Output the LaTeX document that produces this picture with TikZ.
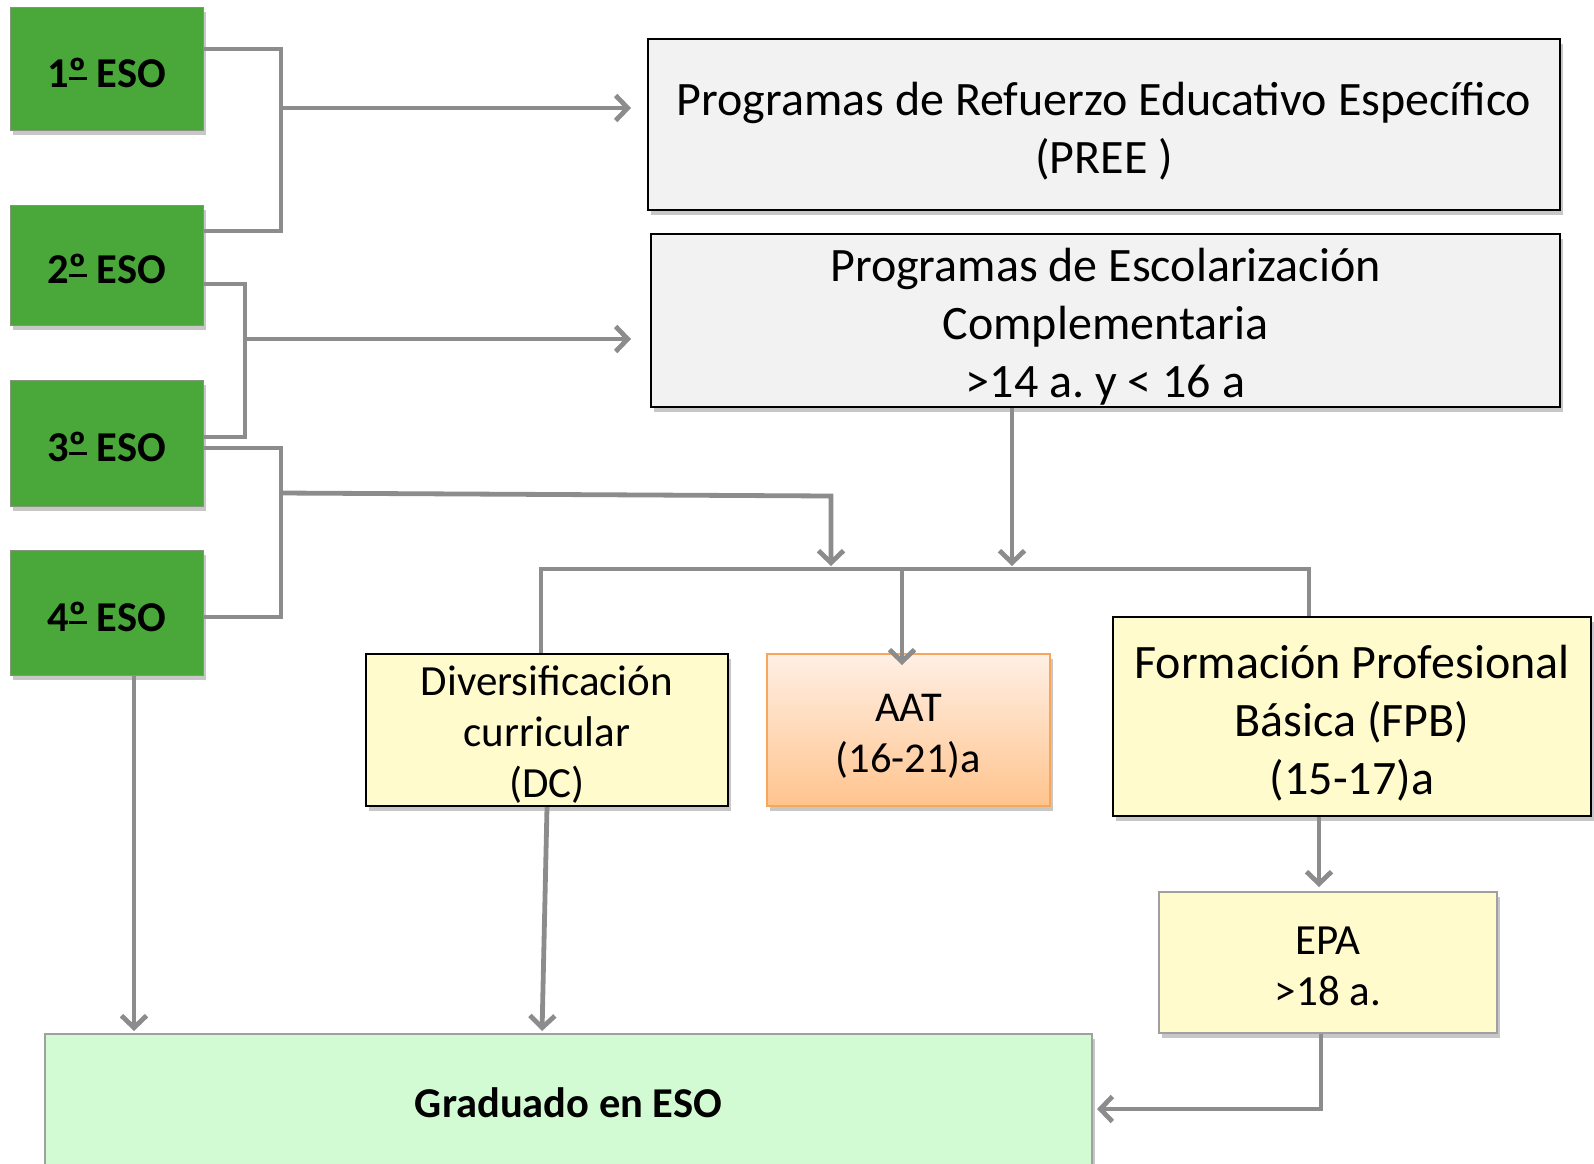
\documentclass[tikz,border=0pt]{standalone}
\usepackage{fontspec}
\setmainfont{Carlito}
\usetikzlibrary{arrows.meta,shadows,calc}
\frenchspacing
\newcommand\myord{\begingroup\setbox0\hbox{º}\rlap{\rule[0.16em]{\wd0}{0.065em}}\box0\endgroup}
\definecolor{esogreen}{RGB}{74,167,58}
\definecolor{esoedge}{RGB}{130,150,120}
\definecolor{conngray}{RGB}{140,140,140}
\definecolor{boxgray}{RGB}{242,242,242}
\definecolor{paleyellow}{RGB}{255,251,204}
\definecolor{palegreen}{RGB}{211,251,211}
\definecolor{edgegray}{RGB}{160,160,160}
\definecolor{aattop}{RGB}{255,239,228}
\definecolor{aatbot}{RGB}{255,196,142}
\definecolor{aatedge}{RGB}{246,167,92}
\tikzset{
  shad/.style={drop shadow={shadow xshift=3pt,shadow yshift=-5pt,opacity=0.22,fill=black}},
  lblbig/.style={align=center,inner sep=0pt,font=\fontsize{48}{58}\selectfont},
  lblmid/.style={align=center,inner sep=0pt,font=\fontsize{43}{51}\selectfont},
  lblbold/.style={align=center,inner sep=0pt,font=\fontsize{42.5}{50}\selectfont\bfseries},
  esobox/.style={shad,fill=esogreen,draw=esoedge,line width=1pt,minimum width=193pt,inner sep=0pt},
  greybox/.style={shad,fill=boxgray,draw=black,line width=2pt,inner sep=0pt},
  yelbox/.style={shad,fill=paleyellow,draw=black,line width=2pt,inner sep=0pt},
  conn/.style={draw=conngray,line width=4.8pt},
  arr/.style={conn,-{Straight Barb[length=12pt,width=25pt]}},
}
\begin{document}
\begin{tikzpicture}[x=1pt,y=-1pt]
\useasboundingbox (0,0) rectangle (1594,1163);
% ESO boxes
\node[esobox,minimum height=123pt,label={[lblbold,yshift=-4pt]center:{1\myord{} ESO}}] (e1) at (106.5,68.5) {};
\node[esobox,minimum height=120pt,label={[lblbold,yshift=-4pt]center:{2\myord{} ESO}}] (e2) at (106.5,265) {};
\node[esobox,minimum height=126pt,label={[lblbold,yshift=-4pt]center:{3\myord{} ESO}}] (e3) at (106.5,443) {};
\node[esobox,minimum height=125pt,label={[lblbold,yshift=-4pt]center:{4\myord{} ESO}}] (e4) at (106.5,612.5) {};
% programme boxes
\node[greybox,minimum width=912pt,minimum height=171pt,
  label={[lblbig,yshift=-6.5pt]center:{Programas de Refuerzo Educativo Específico\\(PREE )}}]
  (pree) at (1104,124.5) {};
\node[greybox,minimum width=909pt,minimum height=173pt,
  label={[lblbig,yshift=-6pt]center:{Programas de Escolarización\\Complementaria\\>14 a. y < 16 a}}]
  (pec) at (1105.5,320.5) {};
\node[yelbox,minimum width=362pt,minimum height=152pt,
  label={[lblmid,yshift=-5pt]center:{Diversificación\\curricular\\(DC)}}]
  (dc) at (547,730) {};
\node[shad,top color=aattop,bottom color=aatbot,draw=aatedge,line width=2pt,inner sep=0pt,
  minimum width=283pt,minimum height=152pt,
  label={[lblmid,font=\fontsize{42.5}{51}\selectfont,yshift=-6pt]center:{AAT\\(16-21)a}}]
  (aat) at (908.5,730) {};
\node[yelbox,minimum width=478pt,minimum height=199pt,
  label={[lblbig,yshift=-7pt]center:{Formación Profesional\\Básica (FPB)\\(15-17)a}}]
  (fpb) at (1352,716.5) {};
\node[yelbox,draw=edgegray,minimum width=338pt,minimum height=141pt,
  label={[lblmid,yshift=-4pt]center:{EPA\\>18 a.}}]
  (epa) at (1328,962.5) {};
\node[shad,fill=palegreen,draw=edgegray,line width=2pt,inner sep=0pt,
  minimum width=1047pt,minimum height=138pt,
  label={[lblbold]center:{Graduado en ESO}}]
  (grad) at (568.5,1103) {};
% junction coordinates
\coordinate (b1) at (281,108);
\coordinate (b2) at (245,339);
\coordinate (b3) at (281,493);
\coordinate (c3) at (831,496);
\coordinate (busL) at (541,569);
\coordinate (busR) at (1309,569);
\coordinate (m1) at (902,569);
\coordinate (m2) at (1012,569);
\coordinate (d4) at ([xshift=27.5pt]e4.south);
% brackets
\draw[conn] ([yshift=19.5pt]e1.east) -| (b1) |- ([yshift=34pt]e2.east);
\draw[arr,shorten >=16pt] (b1) -- (b1 -| pree.west);
\draw[conn] ([yshift=-19pt]e2.east) -| (b2) |- ([yshift=6pt]e3.east);
\draw[arr,shorten >=19pt] (b2) -- (b2 -| pec.west);
\draw[conn] ([yshift=-5pt]e3.east) -| (b3) |- ([yshift=-4.5pt]e4.east);
\draw[arr,shorten >=3pt] (b3) -- (c3) -- (c3 |- busL);
\draw[arr,shorten >=3pt] (m2 |- pec.south) -- (m2);
% bus
\draw[conn] (busL |- dc.north) -- (busL) -- (busR) -- (busR |- fpb.north);
\draw[arr,shorten >=-12pt] (m1) -- (m1 |- aat.north);
% downward
\draw[arr,shorten >=2pt] (d4) -- (d4 |- grad.north);
\draw[arr,shorten >=2pt] (dc.south) -- ([xshift=-26.5pt]grad.north);
\draw[arr,shorten >=4pt] ([xshift=-33pt]fpb.south) -- ([xshift=-9pt]epa.north);
\draw[arr,shorten >=4pt] ([xshift=-7pt]epa.south) |- ([yshift=-6pt]grad.east);
\end{tikzpicture}
\end{document}
